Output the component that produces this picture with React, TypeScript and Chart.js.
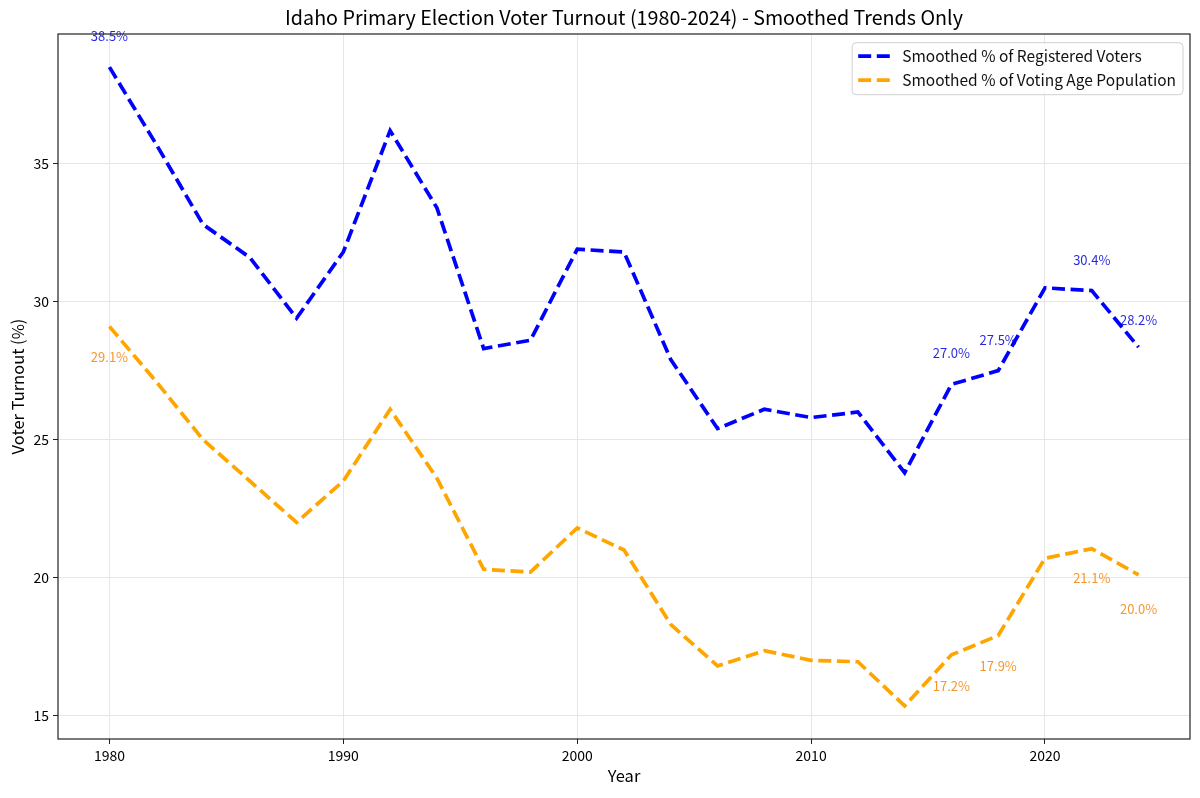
import { useEffect, useRef } from 'react'
import { Chart, registerables } from 'chart.js'

Chart.register(...registerables)

const FONT = "'Noto Sans CJK JP', 'Noto Sans', sans-serif"

// election years and smoothed turnout (%)
const years = [
  1980, 1982, 1984, 1986, 1988, 1990, 1992, 1994, 1996, 1998, 2000, 2002,
  2004, 2006, 2008, 2010, 2012, 2014, 2016, 2018, 2020, 2022, 2024,
]
const registeredPct = [
  38.5, 35.7, 32.8, 31.6, 29.4, 31.8, 36.2, 33.4, 28.3, 28.6, 31.9, 31.8,
  27.9, 25.4, 26.1, 25.8, 26.0, 23.8, 27.0, 27.5, 30.5, 30.4, 28.35,
]
const vapPct = [
  29.1, 27.1, 25.0, 23.5, 22.0, 23.5, 26.1, 23.6, 20.3, 20.2, 21.8, 21.0,
  18.3, 16.8, 17.35, 17.0, 16.95, 15.35, 17.2, 17.9, 20.7, 21.05, 20.1,
]

// annotated values
const labelYears = [1980, 2016, 2018, 2022, 2024]
const registeredLabels = [38.5, 27.0, 27.5, 30.4, 28.2]
const vapLabels = [29.1, 17.2, 17.9, 21.1, 20.0]

const TITLE = 'Idaho Primary Election Voter Turnout (1980-2024) - Smoothed Trends Only'
const seriesNames = ['Smoothed % of Registered Voters', 'Smoothed % of Voting Age Population']
const seriesColors = ['#0000ff', '#ffa500']
const DASH = [13, 5.6]

const overlayPlugin = {
  id: 'overlay',
  afterDatasetsDraw(chart: any) {
    const { ctx, chartArea: a, scales } = chart
    const xs = scales.x
    const ys = scales.y
    ctx.save()

    // title, centred over the plot area
    ctx.font = `19.7px ${FONT}`
    ctx.fillStyle = '#000'
    ctx.textAlign = 'center'
    ctx.textBaseline = 'middle'
    ctx.fillText(TITLE, (a.left + a.right) / 2, 18)

    // point labels
    ctx.font = `13px ${FONT}`
    labelYears.forEach((yr, i) => {
      const x = xs.getPixelForValue(yr)
      ctx.fillStyle = 'rgba(0,0,220,0.85)'
      ctx.fillText(`${registeredLabels[i].toFixed(1)}%`, x, ys.getPixelForValue(registeredLabels[i]) - 31)
      ctx.fillStyle = 'rgba(245,140,20,0.9)'
      ctx.fillText(`${vapLabels[i].toFixed(1)}%`, x, ys.getPixelForValue(vapLabels[i]) + 31)
    })

    // frame
    ctx.strokeStyle = '#222'
    ctx.lineWidth = 1.2
    ctx.strokeRect(a.left, a.top, a.right - a.left, a.bottom - a.top)

    // legend
    ctx.font = `15.5px ${FONT}`
    const textW = Math.max(...seriesNames.map((n) => ctx.measureText(n).width))
    const boxW = 50 + textW + 7
    const boxH = 52
    const left = a.right - 7 - boxW
    const top = a.top + 8.7
    ctx.beginPath()
    ctx.roundRect(left, top, boxW, boxH, 4)
    ctx.fillStyle = 'rgba(255,255,255,0.8)'
    ctx.fill()
    ctx.strokeStyle = '#d0d0d0'
    ctx.lineWidth = 1
    ctx.stroke()
    seriesNames.forEach((name, i) => {
      const cy = top + 13.5 + i * 24
      ctx.beginPath()
      ctx.setLineDash(DASH)
      ctx.strokeStyle = seriesColors[i]
      ctx.lineWidth = 3.7
      ctx.moveTo(left + 6, cy)
      ctx.lineTo(left + 38, cy)
      ctx.stroke()
      ctx.setLineDash([])
      ctx.fillStyle = '#111'
      ctx.textAlign = 'left'
      ctx.textBaseline = 'middle'
      ctx.fillText(name, left + 50, cy)
    })

    ctx.restore()
  },
}

export default function App() {
  const canvasRef = useRef<HTMLCanvasElement>(null)

  useEffect(() => {
    document.body.style.margin = '0'
    if (!canvasRef.current) return
    Chart.defaults.font.family = FONT
    Chart.defaults.color = '#000'

    const chart = new Chart(canvasRef.current, {
      type: 'line',
      data: {
        datasets: [registeredPct, vapPct].map((vals, i) => ({
          label: seriesNames[i],
          data: years.map((yr, j) => ({ x: yr, y: vals[j] })),
          borderColor: seriesColors[i],
          backgroundColor: seriesColors[i],
          borderWidth: 3.7,
          borderDash: DASH,
          pointRadius: 0,
          tension: 0,
          fill: false,
        })),
      },
      options: {
        animation: false,
        responsive: true,
        maintainAspectRatio: false,
        layout: { padding: { left: 0, right: 10, top: 34, bottom: 0 } },
        plugins: {
          legend: { display: false },
          tooltip: { enabled: false },
          title: { display: false },
        },
        scales: {
          x: {
            type: 'linear',
            min: 1977.8,
            max: 2026.2,
            afterFit: (s: any) => {
              s.height = 59
            },
            border: { display: false },
            grid: { color: '#e6e6e6', tickColor: '#222', tickLength: 5 },
            ticks: {
              stepSize: 10,
              includeBounds: false,
              padding: 3,
              font: { size: 14 },
              callback: (v: any) => String(v),
            },
            title: {
              display: true,
              text: 'Year',
              font: { size: 16.5 },
              padding: { top: 0, bottom: 12 },
            },
          },
          y: {
            type: 'linear',
            min: 14.15,
            max: 39.7,
            afterFit: (s: any) => {
              s.width = 58
            },
            border: { display: false },
            grid: { color: '#e6e6e6', tickColor: '#222', tickLength: 5 },
            ticks: {
              stepSize: 5,
              includeBounds: false,
              padding: 4,
              font: { size: 14 },
            },
            title: {
              display: true,
              text: 'Voter Turnout (%)',
              font: { size: 16.5 },
              padding: { top: 8, bottom: 0 },
            },
          },
        },
      },
      plugins: [overlayPlugin],
    })

    return () => chart.destroy()
  }, [])

  return (
    <div style={{ width: 1200, height: 798, position: 'relative' }}>
      <canvas ref={canvasRef} />
    </div>
  )
}
